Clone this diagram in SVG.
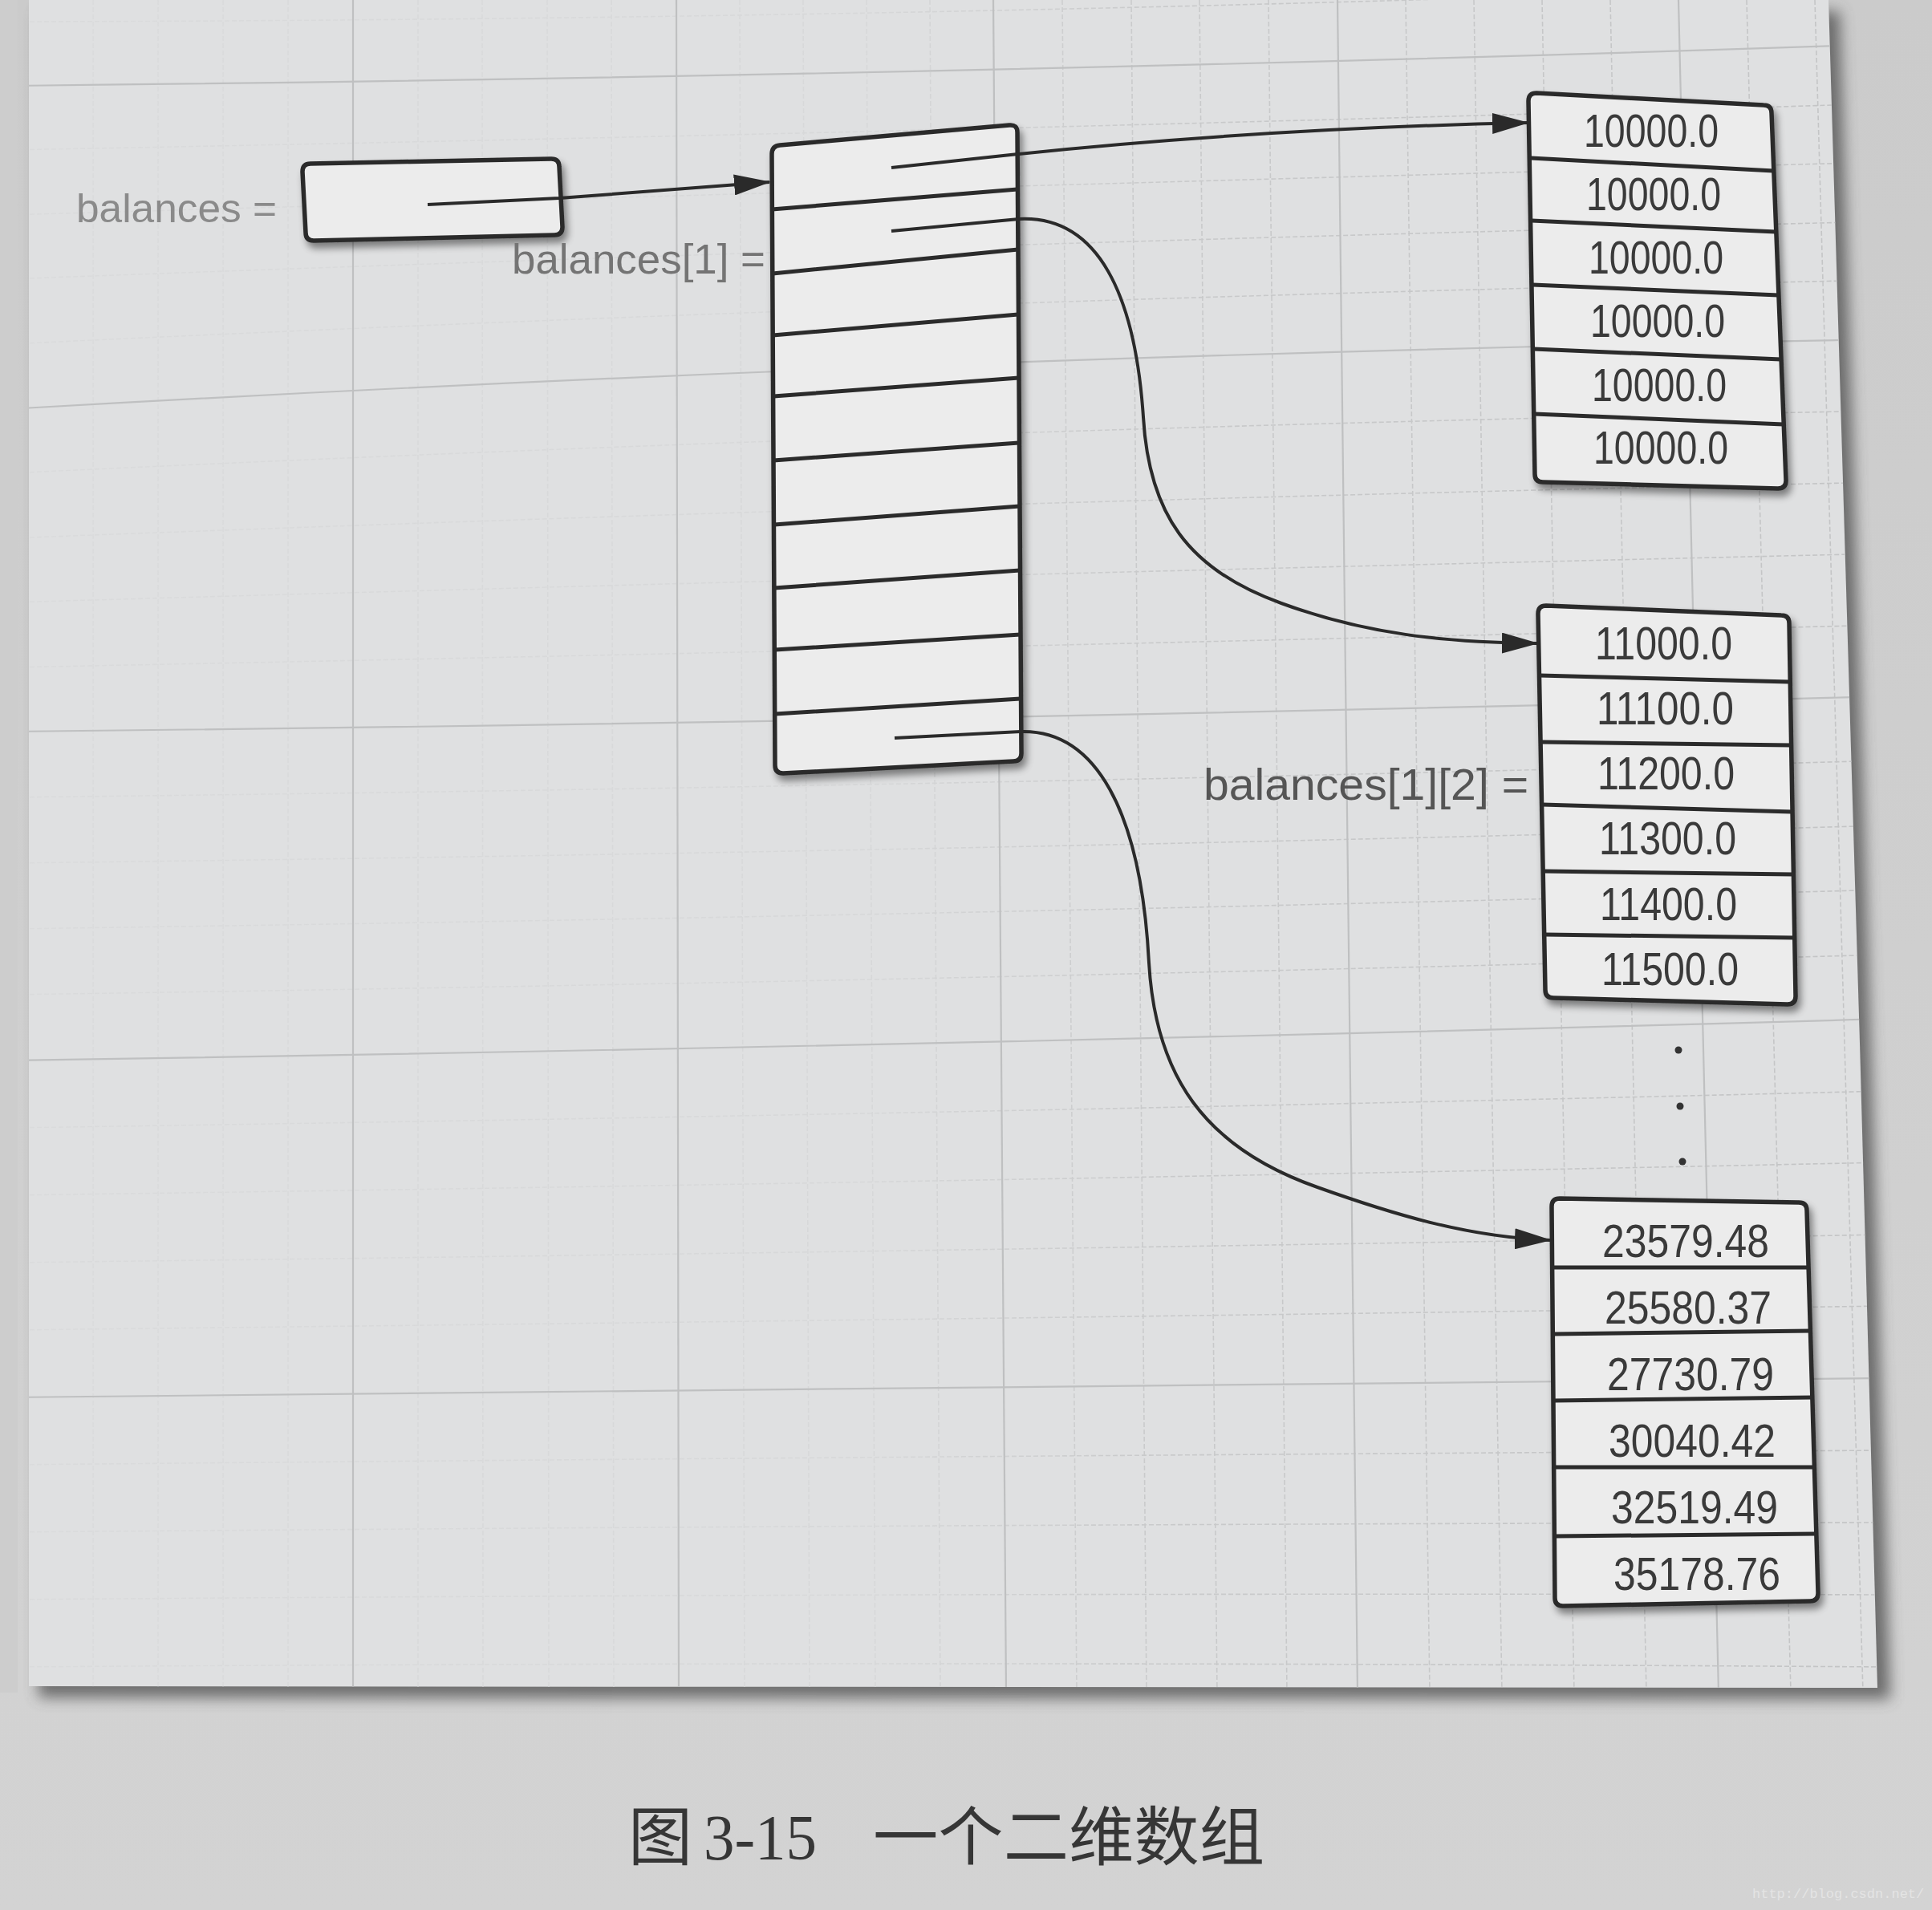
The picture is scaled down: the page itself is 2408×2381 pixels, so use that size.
<svg xmlns="http://www.w3.org/2000/svg" width="2408" height="2381" viewBox="0 0 2408 2381">
  <defs>
    <style>
      .major { fill: none; stroke: #bfc0c1; stroke-width: 2.2; }
      .minor { fill: none; stroke: url(#minorTone); stroke-width: 1.6; stroke-dasharray: 6 3; }
      .box { fill: #ececec; stroke: #2b2b2b; stroke-width: 5.5; stroke-linejoin: round; }
      .sep { stroke: #2b2b2b; stroke-width: 5; fill: none; }
      .conn { fill: none; stroke: #2a2a2a; stroke-width: 4; stroke-linejoin: round; }
      .num { font-family: "Liberation Sans", Arial, Helvetica, sans-serif; font-size: 58px; fill: #3a3a3a; }
      .lbl { font-family: "Liberation Sans", Arial, Helvetica, sans-serif; }
      .cap { font-family: "Noto Sans CJK SC", "Noto Sans CJK TC", sans-serif; font-size: 80px; fill: #363636; }
    </style>
    <linearGradient id="minorTone" gradientUnits="userSpaceOnUse" x1="0" y1="0" x2="2400" y2="0">
      <stop offset="0" stop-color="#dadbdc"/>
      <stop offset="0.45" stop-color="#d7d8d9"/>
      <stop offset="0.6" stop-color="#c9cacb"/>
      <stop offset="1" stop-color="#c3c4c5"/>
    </linearGradient>
    <linearGradient id="belowPage" x1="0" y1="0" x2="0" y2="1">
      <stop offset="0" stop-color="#cbcbcb"/>
      <stop offset="1" stop-color="#d3d3d3"/>
    </linearGradient>
    <marker id="arrow" markerUnits="userSpaceOnUse" markerWidth="46" markerHeight="26" refX="44" refY="13" orient="auto">
      <path d="M0,0 L46,13 L0,26 Z" fill="#2a2a2a"/>
    </marker>
    <filter id="boxShadow" x="-10%" y="-10%" width="130%" height="130%">
      <feGaussianBlur in="SourceAlpha" stdDeviation="5"/>
      <feOffset dx="4" dy="7"/>
      <feComponentTransfer><feFuncA type="linear" slope="0.45"/></feComponentTransfer>
      <feMerge><feMergeNode/><feMergeNode in="SourceGraphic"/></feMerge>
    </filter>
    <filter id="soft" x="-5%" y="-5%" width="110%" height="110%">
      <feGaussianBlur stdDeviation="9"/>
    </filter>
    <filter id="softEdge" x="-50%" y="-5%" width="200%" height="110%">
      <feGaussianBlur stdDeviation="4"/>
    </filter>
    <clipPath id="pageClip">
      <path d="M36,0 L2279,0 L2318,1300 L2340,2104 L36,2102 Z"/>
    </clipPath>
  </defs>

  <!-- desk / facing sheet -->
  <rect x="0" y="0" width="2408" height="2381" fill="url(#belowPage)"/>

  <!-- sheet with its cast shadow -->
  <path d="M48,14 L2293,14 L2332,1312 L2356,2118 L48,2116 Z" fill="#4c4c4c" opacity="0.75" filter="url(#soft)"/>
  <path d="M36,0 L2279,0 L2318,1300 L2340,2104 L36,2102 Z" fill="#dfe0e1"/>
  <rect x="0" y="0" width="22" height="2110" fill="#cdcdcd"/>
  <line x1="30" y1="150" x2="30" y2="2102" stroke="#9a9a9a" stroke-width="14" filter="url(#softEdge)"/>

  <!-- graph paper -->
  <g id="grid" clip-path="url(#pageClip)">
    <g class="minor-h">
      <path class="minor" d="M10,27 Q1180,25 2350,-20"/>
      <path class="minor" d="M10,187 Q1180,165 2350,129"/>
      <path class="minor" d="M10,268 Q1180,234 2350,202"/>
      <path class="minor" d="M10,348 Q1180,304 2350,276"/>
      <path class="minor" d="M10,429 Q1180,373 2350,349"/>
      <path class="minor" d="M10,590 Q1180,534 2350,512"/>
      <path class="minor" d="M10,671 Q1180,626 2350,601"/>
      <path class="minor" d="M10,751 Q1180,717 2350,690"/>
      <path class="minor" d="M10,832 Q1180,809 2350,779"/>
      <path class="minor" d="M10,994 Q1180,981 2350,948"/>
      <path class="minor" d="M10,1076 Q1180,1062 2350,1029"/>
      <path class="minor" d="M10,1158 Q1180,1142 2350,1109"/>
      <path class="minor" d="M10,1240 Q1180,1223 2350,1190"/>
      <path class="minor" d="M10,1406 Q1180,1389 2350,1360"/>
      <path class="minor" d="M10,1490 Q1180,1474 2350,1449"/>
      <path class="minor" d="M10,1574 Q1180,1560 2350,1539"/>
      <path class="minor" d="M10,1658 Q1180,1645 2350,1628"/>
      <path class="minor" d="M10,1826 Q1180,1815 2350,1808"/>
      <path class="minor" d="M10,1910 Q1180,1900 2350,1898"/>
      <path class="minor" d="M10,1994 Q1180,1985 2350,1988"/>
      <path class="minor" d="M10,2078 Q1180,2070 2350,2078"/>
    </g>
    <g class="minor-v">
      <path class="minor" d="M116,0 L116,2110"/>
      <path class="minor" d="M197,0 L197,2110"/>
      <path class="minor" d="M278,0 L278,2110"/>
      <path class="minor" d="M359,0 L359,2110"/>
      <path class="minor" d="M521,0 L521,2110"/>
      <path class="minor" d="M601,0 L602,2110"/>
      <path class="minor" d="M682,0 L684,2110"/>
      <path class="minor" d="M762,0 L765,2110"/>
      <path class="minor" d="M922,0 L928,2110"/>
      <path class="minor" d="M1001,0 L1009,2110"/>
      <path class="minor" d="M1080,0 L1091,2110"/>
      <path class="minor" d="M1159,0 L1172,2110"/>
      <path class="minor" d="M1324,0 L1342,2110"/>
      <path class="minor" d="M1410,0 L1429,2110"/>
      <path class="minor" d="M1495,0 L1517,2110"/>
      <path class="minor" d="M1581,0 L1604,2110"/>
      <path class="minor" d="M1752,0 L1782,2110"/>
      <path class="minor" d="M1837,0 L1872,2110"/>
      <path class="minor" d="M1922,0 L1962,2110"/>
      <path class="minor" d="M2007,0 L2052,2110"/>
      <path class="minor" d="M2177,0 L2232,2110"/>
      <path class="minor" d="M2262,0 L2322,2110"/>
    </g>
    <g class="major-lines">
      <path class="major" d="M10,107 Q1180,95 2350,55"/>
      <path class="major" d="M10,510 Q1180,443 2350,423"/>
      <path class="major" d="M10,912 Q1180,900 2350,868"/>
      <path class="major" d="M10,1322 Q1180,1304 2350,1270"/>
      <path class="major" d="M10,1742 Q1180,1730 2350,1718"/>
      <path class="major" d="M440,0 L440,2110"/>
      <path class="major" d="M843,0 L846,2110"/>
      <path class="major" d="M1238,0 L1254,2110"/>
      <path class="major" d="M1667,0 L1692,2110"/>
      <path class="major" d="M2092,0 L2142,2110"/>
    </g>
  </g>

  <!-- reference variable -->
  <g id="node-balances">
    <text class="lbl" x="95" y="277" font-size="50" fill="#8a8a8a" textLength="250" lengthAdjust="spacingAndGlyphs">balances =</text>
    <path class="box" filter="url(#boxShadow)" d="M387,204 L687,198 Q697,198 697,208 L701,283 Q701,293 691,293 L391,300 Q381,300 381,290 L377,214 Q377,204 387,204 Z"/>
  </g>

  <!-- outer array of row references -->
  <g id="node-rows">
    <text class="lbl" x="638" y="341" font-size="52" fill="#747474" textLength="316" lengthAdjust="spacingAndGlyphs">balances[1] =</text>
    <path class="box" filter="url(#boxShadow)" d="M972,181 L1258,156 Q1268,155 1268,165 L1273,939 Q1273,949 1263,949 L976,964 Q966,964 966,954 L962,192 Q962,182 972,181 Z"/>
    <path class="sep" d="M962,261 L1268,236 M963,341 L1269,311 M963,418 L1269,392 M964,494 L1270,471 M964,574 L1270,552 M965,654 L1271,631 M965,733 L1271,711 M966,810 L1272,791 M966,890 L1272,871"/>
  </g>

  <!-- row 0 -->
  <g id="node-row0">
    <path class="box" filter="url(#boxShadow)" d="M1915,116 L2198,131 Q2208,131 2208,141 L2226,599 Q2226,609 2216,609 L1923,601 Q1913,601 1913,591 L1905,126 Q1905,116 1915,116 Z"/>
    <path class="sep" d="M1908,197 L2211,213 M1909,275 L2214,289 M1910,355 L2217,368 M1911,435 L2220,448 M1912,516 L2223,529"/>
    <text class="num" x="1974" y="183" textLength="168" lengthAdjust="spacingAndGlyphs">10000.0</text>
    <text class="num" x="1977" y="262" textLength="168" lengthAdjust="spacingAndGlyphs">10000.0</text>
    <text class="num" x="1980" y="341" textLength="168" lengthAdjust="spacingAndGlyphs">10000.0</text>
    <text class="num" x="1982" y="420" textLength="168" lengthAdjust="spacingAndGlyphs">10000.0</text>
    <text class="num" x="1984" y="500" textLength="168" lengthAdjust="spacingAndGlyphs">10000.0</text>
    <text class="num" x="1986" y="578" textLength="168" lengthAdjust="spacingAndGlyphs">10000.0</text>
  </g>

  <!-- row 1 -->
  <g id="node-row1">
    <text class="lbl" x="1500" y="997" font-size="56" fill="#555555" textLength="405" lengthAdjust="spacingAndGlyphs">balances[1][2] =</text>
    <path class="box" filter="url(#boxShadow)" d="M1927,755 L2220,767 Q2230,767 2230,777 L2238,1242 Q2238,1252 2228,1252 L1936,1244 Q1926,1244 1926,1234 L1917,765 Q1917,755 1927,755 Z"/>
    <path class="sep" d="M1919,842 L2231,850 M1921,925 L2233,929 M1922,1003 L2234,1012 M1924,1086 L2236,1090 M1925,1165 L2237,1169"/>
    <text class="num" x="1988" y="822" textLength="171" lengthAdjust="spacingAndGlyphs">11000.0</text>
    <text class="num" x="1990" y="903" textLength="171" lengthAdjust="spacingAndGlyphs">11100.0</text>
    <text class="num" x="1991" y="984" textLength="171" lengthAdjust="spacingAndGlyphs">11200.0</text>
    <text class="num" x="1993" y="1065" textLength="171" lengthAdjust="spacingAndGlyphs">11300.0</text>
    <text class="num" x="1994" y="1147" textLength="171" lengthAdjust="spacingAndGlyphs">11400.0</text>
    <text class="num" x="1996" y="1228" textLength="171" lengthAdjust="spacingAndGlyphs">11500.0</text>
  </g>

  <!-- elided rows -->
  <g id="ellipsis" fill="#333333">
    <circle cx="2092" cy="1309" r="4.5"/>
    <circle cx="2094" cy="1379" r="4.5"/>
    <circle cx="2097" cy="1448" r="4.5"/>
  </g>

  <!-- last row -->
  <g id="node-row9">
    <path class="box" filter="url(#boxShadow)" d="M1944,1494 L2242,1499 Q2252,1499 2252,1509 L2266,1986 Q2266,1996 2256,1996 L1948,2002 Q1938,2002 1938,1992 L1934,1504 Q1934,1494 1944,1494 Z"/>
    <path class="sep" d="M1935,1580 L2254,1580 M1936,1663 L2257,1659 M1936,1746 L2259,1742 M1937,1829 L2262,1829 M1938,1915 L2264,1912"/>
    <text class="num" x="1997" y="1567" textLength="208" lengthAdjust="spacingAndGlyphs">23579.48</text>
    <text class="num" x="2000" y="1650" textLength="208" lengthAdjust="spacingAndGlyphs">25580.37</text>
    <text class="num" x="2003" y="1733" textLength="208" lengthAdjust="spacingAndGlyphs">27730.79</text>
    <text class="num" x="2005" y="1816" textLength="208" lengthAdjust="spacingAndGlyphs">30040.42</text>
    <text class="num" x="2008" y="1899" textLength="208" lengthAdjust="spacingAndGlyphs">32519.49</text>
    <text class="num" x="2011" y="1982" textLength="208" lengthAdjust="spacingAndGlyphs">35178.76</text>
  </g>

  <!-- references -->
  <g id="connectors">
    <path class="conn" marker-end="url(#arrow)" d="M533,255 L697,247 Q820,238 959,227"/>
    <path class="conn" marker-end="url(#arrow)" d="M1111,209 L1269,192 Q1580,160 1904,153"/>
    <path class="conn" marker-end="url(#arrow)" d="M1111,288 L1270,273 C1370,268 1415,370 1425,520 C1432,640 1480,710 1597,752 C1700,790 1800,801 1916,802"/>
    <path class="conn" marker-end="url(#arrow)" d="M1115,920 L1273,912 C1365,910 1422,1010 1432,1200 C1440,1340 1500,1430 1642,1480 C1740,1515 1830,1542 1932,1546"/>
  </g>

  <!-- caption -->
  <g id="caption">
    <text class="cap" x="783" y="2318" font-size="76">图</text>
    <text x="877" y="2318" font-family="'Liberation Serif', 'Times New Roman', serif" font-size="80" fill="#363636" textLength="141" lengthAdjust="spacingAndGlyphs">3-15</text>
    <text class="cap" x="1088" y="2318" textLength="488" lengthAdjust="spacingAndGlyphs">一个二维数组</text>
  </g>

  <text x="2184" y="2366" font-family="'Liberation Mono', monospace" font-size="17" fill="#e4e4e4">http://blog.csdn.net/</text>
</svg>
